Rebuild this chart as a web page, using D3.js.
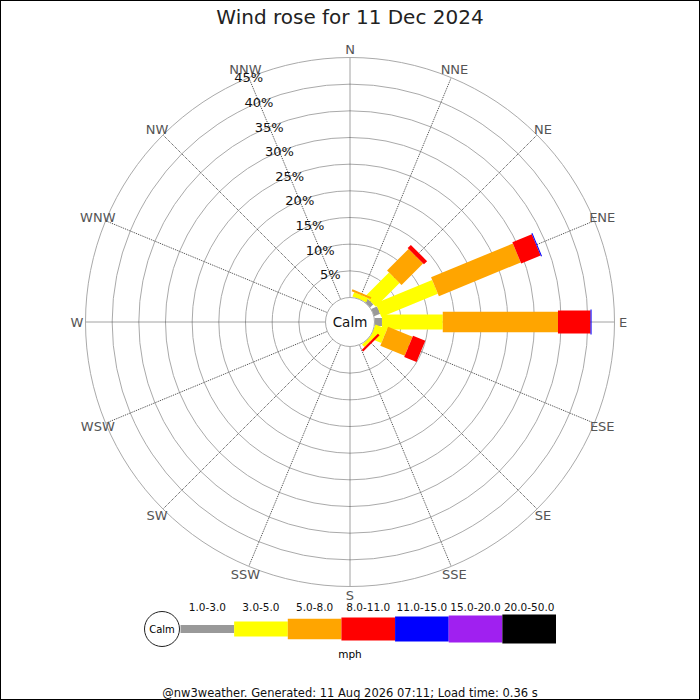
<!DOCTYPE html>
<html>
<head>
<meta charset="utf-8">
<script src="https://cdn.jsdelivr.net/npm/d3@7"></script>
<style>
  body { margin: 0; background: #fff; }
  svg { display: block; font-family: 'DejaVu Sans', sans-serif; }
</style>
</head>
<body>
<div id="chart"></div>
<script>
// direction sectors, clockwise from north
const dirLabels = ['N', 'NNE', 'NE', 'ENE', 'E', 'ESE', 'SE', 'SSE', 'S', 'SSW', 'SW', 'WSW', 'W', 'WNW', 'NW', 'NNW']
const speedLabels = ['1.0-3.0', '3.0-5.0', '5.0-8.0', '8.0-11.0', '11.0-15.0', '15.0-20.0', '20.0-50.0']

// % of time per direction for each speed band (mph)
const pct1to3   = [0, 0,    0.85, 1.2,   1.4,  0,    0,    0, 0, 0, 0, 0, 0, 0, 0, 0]
const pct3to5   = [0, 0.85, 6.3,  11.45, 11.4, 2.35, 0.65, 0, 0, 0, 0, 0, 0, 0, 0, 0]
const pct5to8   = [0, 0.4,  5.7,  16.6,  21.6, 4.95, 0,    0, 0, 0, 0, 0, 0, 0, 0, 0]
const pct8to11  = [0, 0,    0.85, 3.95,  6.1,  2.5,  0.45, 0, 0, 0, 0, 0, 0, 0, 0, 0]
const pct11to15 = [0, 0,    0,    0.2,   0.2,  0,    0,    0, 0, 0, 0, 0, 0, 0, 0, 0]
const pct15to20 = [0, 0,    0,    0,     0,    0,    0,    0, 0, 0, 0, 0, 0, 0, 0, 0]
const pct20to50 = [0, 0,    0,    0,     0,    0,    0,    0, 0, 0, 0, 0, 0, 0, 0, 0]

const ringTicks = [5, 10, 15, 20, 25, 30, 35, 40, 45]

const bands = [pct1to3, pct3to5, pct5to8, pct8to11, pct11to15, pct15to20, pct20to50]

// styling
const bandColors = ['#999999', '#ffff00', '#ffa500', '#ff0000', '#0000ff', '#a020f0', '#000000']
const bandWidths = [8, 15, 20.5, 23, 25, 27, 29]

const layout = { width: 700, height: 700, cx: 350, cy: 322, r0: 24.5, rMax: 264.5 }

const svg = d3.select('#chart')
  .append('svg')
  .attr('width', layout.width)
  .attr('height', layout.height)
  .attr('viewBox', `0 0 ${layout.width} ${layout.height}`)
  .attr('xmlns', 'http://www.w3.org/2000/svg')

const r = d3.scaleLinear().domain([0, 45]).range([layout.r0, layout.rMax])
const angle = d3.scalePoint().domain(dirLabels).range([0, 337.5])

const polar = (deg, rad) => {
  const a = deg * Math.PI / 180
  return [layout.cx + rad * Math.sin(a), layout.cy - rad * Math.cos(a)]
}

// title
svg.append('text')
  .attr('x', 350).attr('y', 24)
  .attr('text-anchor', 'middle')
  .attr('font-size', 20)
  .attr('fill', '#222')
  .text('Wind rose for 11 Dec 2024')

const rose = svg.append('g')

// rings
rose.selectAll('circle.ring')
  .data(ringTicks)
  .enter()
  .append('circle')
  .attr('class', 'ring')
  .attr('cx', layout.cx).attr('cy', layout.cy)
  .attr('r', d => r(d))
  .attr('fill', 'none')
  .attr('stroke', '#aaa')
  .attr('stroke-width', 1)

// spokes
rose.selectAll('line.spoke')
  .data(dirLabels)
  .enter()
  .append('line')
  .attr('class', 'spoke')
  .attr('x1', d => polar(angle(d), r(0))[0])
  .attr('y1', d => polar(angle(d), r(0))[1])
  .attr('x2', d => polar(angle(d), r(45))[0])
  .attr('y2', d => polar(angle(d), r(45))[1])
  .attr('stroke', '#444')
  .attr('stroke-width', 1)
  .attr('stroke-dasharray', '1,1')

// direction labels
rose.selectAll('text.dir')
  .data(dirLabels)
  .enter()
  .append('text')
  .attr('class', 'dir')
  .attr('x', d => polar(angle(d), 273)[0])
  .attr('y', d => polar(angle(d), 273)[1])
  .attr('dy', '0.36em')
  .attr('text-anchor', 'middle')
  .attr('font-size', 13)
  .attr('fill', '#555')
  .text(d => d)

// stacked bars
const rows = dirLabels.map((d, i) => {
  const row = { dir: d }
  bands.forEach((b, j) => { row[j] = b[i] })
  return row
})
const stacked = d3.stack().keys(d3.range(bands.length))(rows)

stacked.forEach((layer, j) => {
  rose.append('g')
    .selectAll('rect')
    .data(layer.filter(d => d[1] - d[0] > 0))
    .enter()
    .append('rect')
    .attr('transform', d => `translate(${layout.cx},${layout.cy}) rotate(${angle(d.data.dir)})`)
    .attr('x', -bandWidths[j] / 2)
    .attr('y', d => -r(d[1]))
    .attr('width', bandWidths[j])
    .attr('height', d => r(d[1]) - r(d[0]))
    .attr('fill', bandColors[j])
})

// calm circle
rose.append('circle')
  .attr('cx', layout.cx).attr('cy', layout.cy)
  .attr('r', r(0))
  .attr('fill', '#fff')
  .attr('stroke', '#aaa')
rose.append('text')
  .attr('x', layout.cx).attr('y', layout.cy)
  .attr('dy', '0.36em')
  .attr('text-anchor', 'middle')
  .attr('font-size', 13.5)
  .attr('fill', '#111')
  .text('Calm')

// ring labels along NNW
rose.selectAll('text.tick')
  .data(ringTicks)
  .enter()
  .append('text')
  .attr('class', 'tick')
  .attr('x', d => polar(angle('NNW'), r(d))[0])
  .attr('y', d => polar(angle('NNW'), r(d))[1])
  .attr('dy', '0.36em')
  .attr('text-anchor', 'middle')
  .attr('font-size', 13)
  .attr('fill', '#111')
  .text(d => d + '%')

// legend
const legend = svg.append('g')
const lx = d3.scaleBand().domain(speedLabels).range([180.5, 556])
const ly = 629

legend.append('circle')
  .attr('cx', 162).attr('cy', ly).attr('r', 17.5)
  .attr('fill', '#fff').attr('stroke', '#222')
legend.append('text')
  .attr('x', 162).attr('y', ly).attr('dy', '0.36em')
  .attr('text-anchor', 'middle').attr('font-size', 10)
  .text('Calm')

legend.selectAll('rect')
  .data(speedLabels)
  .enter()
  .append('rect')
  .attr('x', d => lx(d))
  .attr('y', (d, i) => ly - bandWidths[i] / 2)
  .attr('width', lx.bandwidth())
  .attr('height', (d, i) => bandWidths[i])
  .attr('fill', (d, i) => bandColors[i])

legend.selectAll('text.band')
  .data(speedLabels)
  .enter()
  .append('text')
  .attr('class', 'band')
  .attr('x', d => lx(d) + lx.bandwidth() / 2)
  .attr('y', 611)
  .attr('text-anchor', 'middle')
  .attr('font-size', 10.5)
  .attr('fill', '#111')
  .text(d => d)

legend.append('text')
  .attr('x', 350).attr('y', 658)
  .attr('text-anchor', 'middle')
  .attr('font-size', 10.5)
  .text('mph')

// footer
svg.append('text')
  .attr('x', 350).attr('y', 697)
  .attr('text-anchor', 'middle')
  .attr('font-size', 11.5)
  .attr('fill', '#111')
  .text('@nw3weather. Generated: 11 Aug 2026 07:11; Load time: 0.36 s')

// frame
svg.append('rect')
  .attr('x', 0.5).attr('y', 0.5)
  .attr('width', 699).attr('height', 699)
  .attr('fill', 'none')
  .attr('stroke', '#000')
</script>
</body>
</html>
